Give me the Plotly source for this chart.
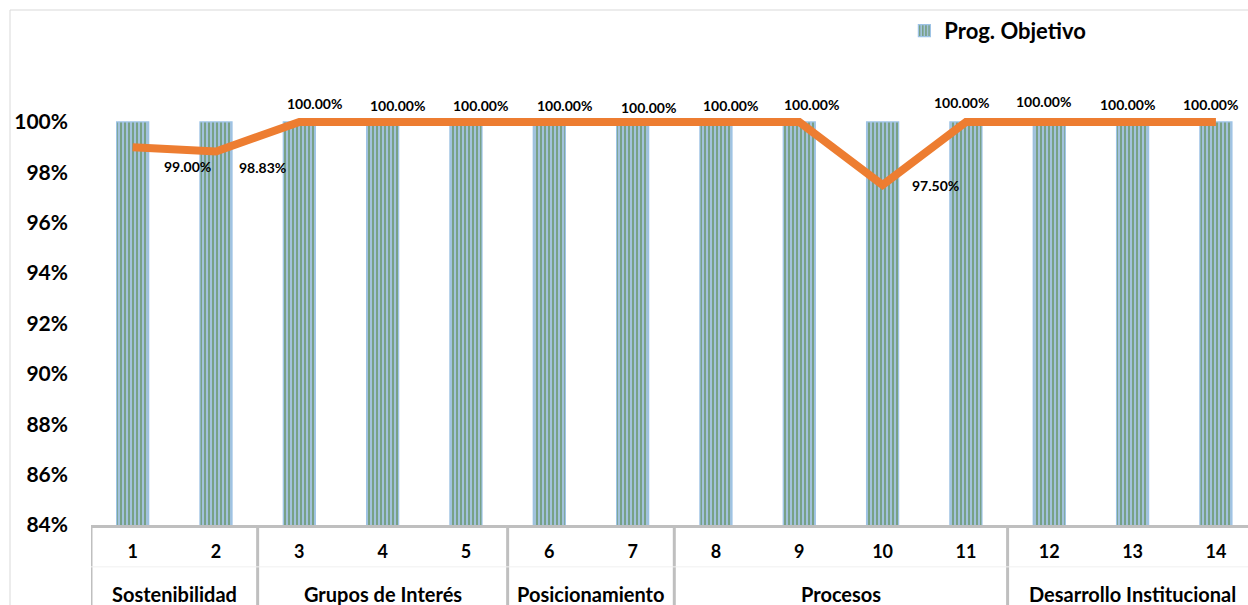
import plotly.graph_objects as go

# ---- data ----
categories = [1, 2, 3, 4, 5, 6, 7, 8, 9, 10, 11, 12, 13, 14]
tick_labels = ["1", "2", "3", "4", "5", "6", "7", "8", "9", "10", "11", "12", "13", "14"]
prog_objetivo = [100, 100, 100, 100, 100, 100, 100, 100, 100, 100, 100, 100, 100, 100]
prog_real = [99.00, 98.83, 100.00, 100.00, 100.00, 100.00, 100.00, 100.00, 100.00, 97.50, 100.00, 100.00, 100.00, 100.00]
groups = ["Sostenibilidad", "Grupos de Interés", "Posicionamiento", "Procesos", "Desarrollo Institucional"]
group_sizes = [2, 3, 2, 4, 3]
y_tick_values = [84, 86, 88, 90, 92, 94, 96, 98, 100]
y_tick_labels = ["84%", "86%", "88%", "90%", "92%", "94%", "96%", "98%", "100%"]

# ---- label offsets (style) ----
label_dx = [55, 47, 15, 15, 15, 15, 16, 15, 12, 53, -4, -6, -5, -5]
label_dy = [-19, -16, 18, 16, 16, 16, 14, 16, 17, -1, 19, 20, 17, 17]

FONT = "Lato"
DARK = "#000000"

fig = go.Figure()

fig.add_trace(go.Bar(
    x=categories, y=prog_objetivo, name="Prog. Objetivo",
    width=0.385,
    marker=dict(
        color="#9DC3E6",
        line=dict(color="#9DC3E6", width=1.2),
        pattern=dict(shape="|", fgcolor="#4E8030", bgcolor="#A2C2DC", size=4, solidity=0.5),
    ),
    hoverinfo="skip",
))

fig.add_trace(go.Scatter(
    x=categories, y=prog_real, mode="lines", name="Prog. Real",
    line=dict(color="#ED7D31", width=8),
    showlegend=False,
))

annotations = []
for c, v, dx, dy in zip(categories, prog_real, label_dx, label_dy):
    annotations.append(dict(
        x=c, y=v, xref="x", yref="y", text=f"{v:.2f}%", showarrow=False,
        xshift=dx, yshift=dy, font=dict(family=FONT, size=14, color=DARK, weight="bold"),
    ))

shapes = []
start = 0.5
shapes.append(dict(type="line", xref="x", yref="paper", x0=start, x1=start, y0=0, y1=-0.2,
                   line=dict(color="#BFBFBF", width=3)))
for g, n in zip(groups, group_sizes):
    end = start + n
    annotations.append(dict(
        x=(start + end) / 2, y=-0.148, xref="x", yref="paper", text=g, showarrow=False,
        yanchor="middle", font=dict(family=FONT, size=20, color=DARK, weight="bold"),
    ))
    shapes.append(dict(type="line", xref="x", yref="paper", x0=end, x1=end, y0=0, y1=-0.2,
                       line=dict(color="#BFBFBF", width=3)))
    start = end

shapes.append(dict(type="line", xref="paper", yref="paper", x0=0, x1=1, y0=-0.09, y1=-0.09,
                   line=dict(color="#F0F0F0", width=1)))
shapes.append(dict(type="rect", xref="paper", yref="paper", x0=-0.07, x1=1.05, y0=-0.3, y1=1.1075,
                   line=dict(color="#D9D9D9", width=1), fillcolor="rgba(0,0,0,0)"))

fig.update_layout(
    width=1248, height=605,
    margin=dict(l=91, r=0, t=60, b=80),
    paper_bgcolor="white", plot_bgcolor="white",
    font=dict(family=FONT, color=DARK),
    showlegend=True,
    legend=dict(orientation="h", x=0.703, y=1.108, xanchor="left", yanchor="top",
                font=dict(family=FONT, size=22, color=DARK, weight="bold"), bgcolor="rgba(0,0,0,0)"),
    annotations=annotations,
    shapes=shapes,
)

fig.update_xaxes(
    range=[0.5, 14.385], tickmode="array", tickvals=categories, ticktext=tick_labels,
    showline=True, linecolor="#BFBFBF", linewidth=3, showgrid=False, zeroline=False,
    ticks="", ticklabelstandoff=8,
    tickfont=dict(family=FONT, size=18, color=DARK, weight="bold"),
)
fig.update_yaxes(
    range=[84, 102.46], tickmode="array", tickvals=y_tick_values, ticktext=y_tick_labels,
    showline=False, showgrid=False, zeroline=False,
    ticks="", ticklabelstandoff=22,
    tickfont=dict(family=FONT, size=21, color=DARK, weight="bold"),
)

fig.write_html("out.html")
